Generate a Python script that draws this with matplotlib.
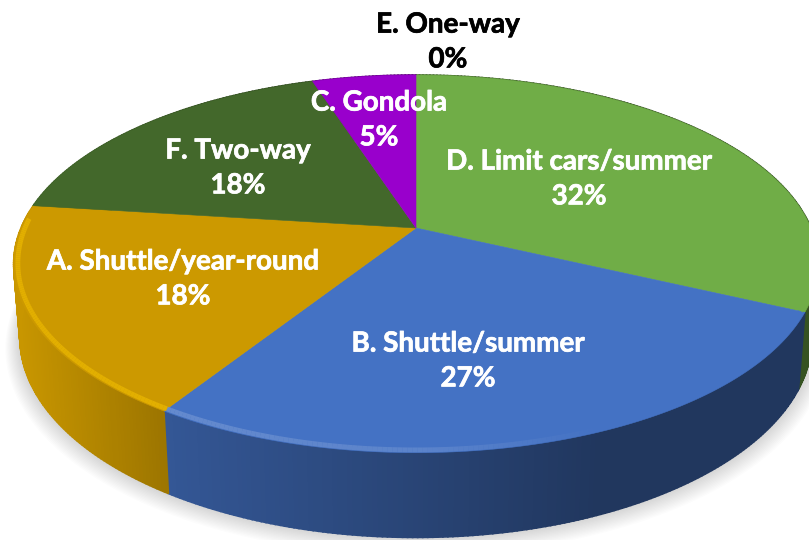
import numpy as np
import matplotlib
matplotlib.use("Agg")
import matplotlib.pyplot as plt
import matplotlib.patheffects as pe
from matplotlib.colors import to_rgb

# slices in drawing order, clockwise from 12 o'clock
labels = ["D. Limit cars/summer", "B. Shuttle/summer", "A. Shuttle/year-round", "F. Two-way", "C. Gondola", "E. One-way"]
shares = [32, 27, 18, 18, 5, 0]
colors = ["#70AD47", "#4472C4", "#CC9900", "#43682B", "#9900CC", "#ED7D31"]

# label centres in image pixels
label_x = [579, 468, 183, 238, 379, 448]
label_y = [179, 361, 279, 168, 120, 42]
label_colors = ["white", "white", "white", "white", "white", "black"]

# projection of the pie disc, image pixels
cx, cy = 416, 228
a, b, k = 395, 182, 0.19
depth = 72
foot = 0.985  # lower rim sits slightly inside the upper one


def project(theta, r=1.0):
    u = r * np.sin(theta)
    v = r * np.cos(theta)
    w = 1 + k * v
    return cx + a * u / w, cy - b * v / w


def drop(theta):
    # height of the side wall at this angle
    return depth / (1 + k * np.cos(theta))


def side_shade(x):
    return np.interp(x, [17, 168, 600, 809], [0.98, 0.76, 0.48, 0.48])


def bevel_light(x):
    return np.interp(x, [17, 168, 420, 600], [0.22, 0.22, 0.16, 0.0])


fig = plt.figure(figsize=(8.09, 5.40), dpi=100)
ax = fig.add_axes([0, 0, 1, 1])
ax.set_xlim(0, 809)
ax.set_ylim(540, 0)
ax.axis("off")

edges = np.radians(np.concatenate([[0], np.cumsum(shares)]) * 3.6)

# soft shadow under the wall
ring = np.linspace(0, 2 * np.pi, 361)
for grow in range(1, 15):
    sx, sy = project(ring, foot + grow * 0.0025)
    ax.fill(sx, sy + drop(ring) + grow * 0.6, color="black", alpha=0.012, lw=0, zorder=1)

# side wall, thin strips so it can be shaded across
for i, col in enumerate(colors):
    if shares[i] == 0:
        continue
    base = np.array(to_rgb(col))
    th = np.linspace(edges[i], edges[i + 1], max(int(shares[i] * 6), 2))
    for t0, t1 in zip(th[:-1], th[1:]):
        x0, y0 = project(t0)
        x1, y1 = project(t1)
        fx0, fy0 = project(t0, foot)
        fx1, fy1 = project(t1, foot)
        shade = base * side_shade((x0 + x1) / 2)
        ax.fill([x0, x1, fx1, fx0], [y0, y1, fy1 + drop(t1), fy0 + drop(t0)],
                color=shade, lw=1.2, zorder=2)

# top faces
for i, col in enumerate(colors):
    if shares[i] == 0:
        continue
    th = np.linspace(edges[i], edges[i + 1], 120)
    x, y = project(th)
    ax.fill(np.r_[cx, x], np.r_[cy, y], color=col, lw=0.4, zorder=3)

# bevel highlight along the front rim
for i, col in enumerate(colors):
    if shares[i] == 0:
        continue
    base = np.array(to_rgb(col))
    th = np.linspace(edges[i], edges[i + 1], max(int(shares[i] * 6), 2))
    for t0, t1 in zip(th[:-1], th[1:]):
        if np.cos(t0) > 0.05 and np.cos(t1) > 0.05:
            continue
        x, y = project(np.array([t0, t1]), 0.99)
        mix = bevel_light(x.mean())
        light = base + (np.array([1, 1, 1]) - base) * mix
        if col == "#CC9900":
            light = base + (np.array([1.0, 0.8, 0.0]) - base) * mix * 2.5
        ax.plot(x, y, color=light, lw=3.5, alpha=0.8, solid_capstyle="butt", zorder=4)

for name, pct, lx, ly, tc in zip(labels, shares, label_x, label_y, label_colors):
    t = ax.text(lx, ly, f"{name}\n{pct}%", ha="center", va="center", color=tc,
                family="Lato", fontweight="bold", fontsize=20, linespacing=1.42, zorder=5)
    t.set_path_effects([pe.withStroke(linewidth=0.5, foreground=tc)])

fig.savefig("out.png", dpi=100)
